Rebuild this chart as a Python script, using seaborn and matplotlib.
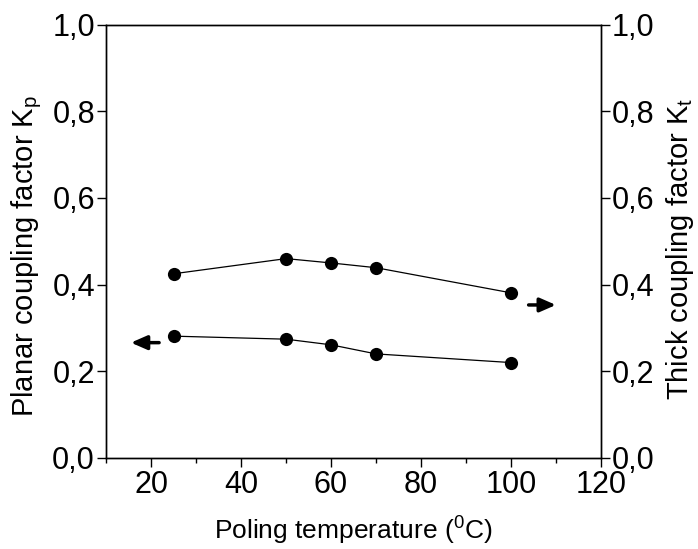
import numpy as np
import pandas as pd
import seaborn as sns
import matplotlib.pyplot as plt
from matplotlib.ticker import FuncFormatter, MultipleLocator

temperature = [25, 50, 60, 70, 100]
kp_values = [0.281, 0.274, 0.261, 0.240, 0.220]
kt_values = [0.425, 0.460, 0.450, 0.439, 0.381]

sns.set_theme(style="ticks")
plt.rcParams['font.family'] = ['Liberation Sans', 'DejaVu Sans']
plt.rcParams['mathtext.fontset'] = 'custom'
plt.rcParams['mathtext.rm'] = 'Liberation Sans'
plt.rcParams['mathtext.it'] = 'Liberation Sans'
for key in ['text.color', 'axes.labelcolor', 'xtick.color', 'ytick.color', 'axes.edgecolor']:
    plt.rcParams[key] = 'black'

df = pd.DataFrame({'T': temperature, 'Kp': kp_values, 'Kt': kt_values})

fig = plt.figure(figsize=(6.98, 5.49), dpi=100)
ax = fig.add_axes([0.152, 0.166, 0.709, 0.789])
ax2 = ax.twinx()

style = dict(color='black', marker='o', markersize=9.5, linewidth=0.9,
             markeredgecolor='black', markeredgewidth=0)
sns.lineplot(data=df, x='T', y='Kp', ax=ax, **style)
sns.lineplot(data=df, x='T', y='Kt', ax=ax2, **style)

comma = FuncFormatter(lambda v, p: f"{v:.1f}".replace('.', ','))
for a in (ax, ax2):
    a.set_ylim(0, 1.0)
    a.yaxis.set_major_locator(MultipleLocator(0.2))
    a.yaxis.set_major_formatter(comma)
    a.tick_params(axis='y', direction='out', length=6.5, width=1, labelsize=22, pad=1.5,
                  color='black', labelcolor='black')
    for s in a.spines.values():
        s.set_linewidth(1)
        s.set_color('black')

ax.set_xlim(10, 120)
ax.xaxis.set_major_locator(MultipleLocator(20))
ax.xaxis.set_minor_locator(MultipleLocator(10))
ax.tick_params(axis='x', which='major', direction='out', length=6.5, width=1, labelsize=22, pad=2,
               color='black', labelcolor='black')
ax.tick_params(axis='x', which='minor', direction='out', length=3.5, width=1, color='black')
ax.tick_params(top=False)

ax.set_xlabel('Poling temperature ($^{0}$C)', fontsize=19, color='black')
ax.set_ylabel('Planar coupling factor K$_{\\rm p}$', fontsize=21, color='black')
ax2.set_ylabel('Thick coupling factor K$_{\\rm t}$', fontsize=21, color='black')
ax.xaxis.set_label_coords(0.5, -0.132)
ax.yaxis.set_label_coords(-0.125, 0.467)
ax2.yaxis.set_label_coords(1.127, 0.483)

arrow = dict(arrowstyle='-|>,head_length=0.8,head_width=0.35', color='black', lw=2.5)
ax.annotate('', xy=(14.9, 0.266), xytext=(22.4, 0.266), arrowprops=arrow)
ax2.annotate('', xy=(110.6, 0.353), xytext=(103.3, 0.353), arrowprops=arrow)

fig.savefig('out.png', dpi=100)
